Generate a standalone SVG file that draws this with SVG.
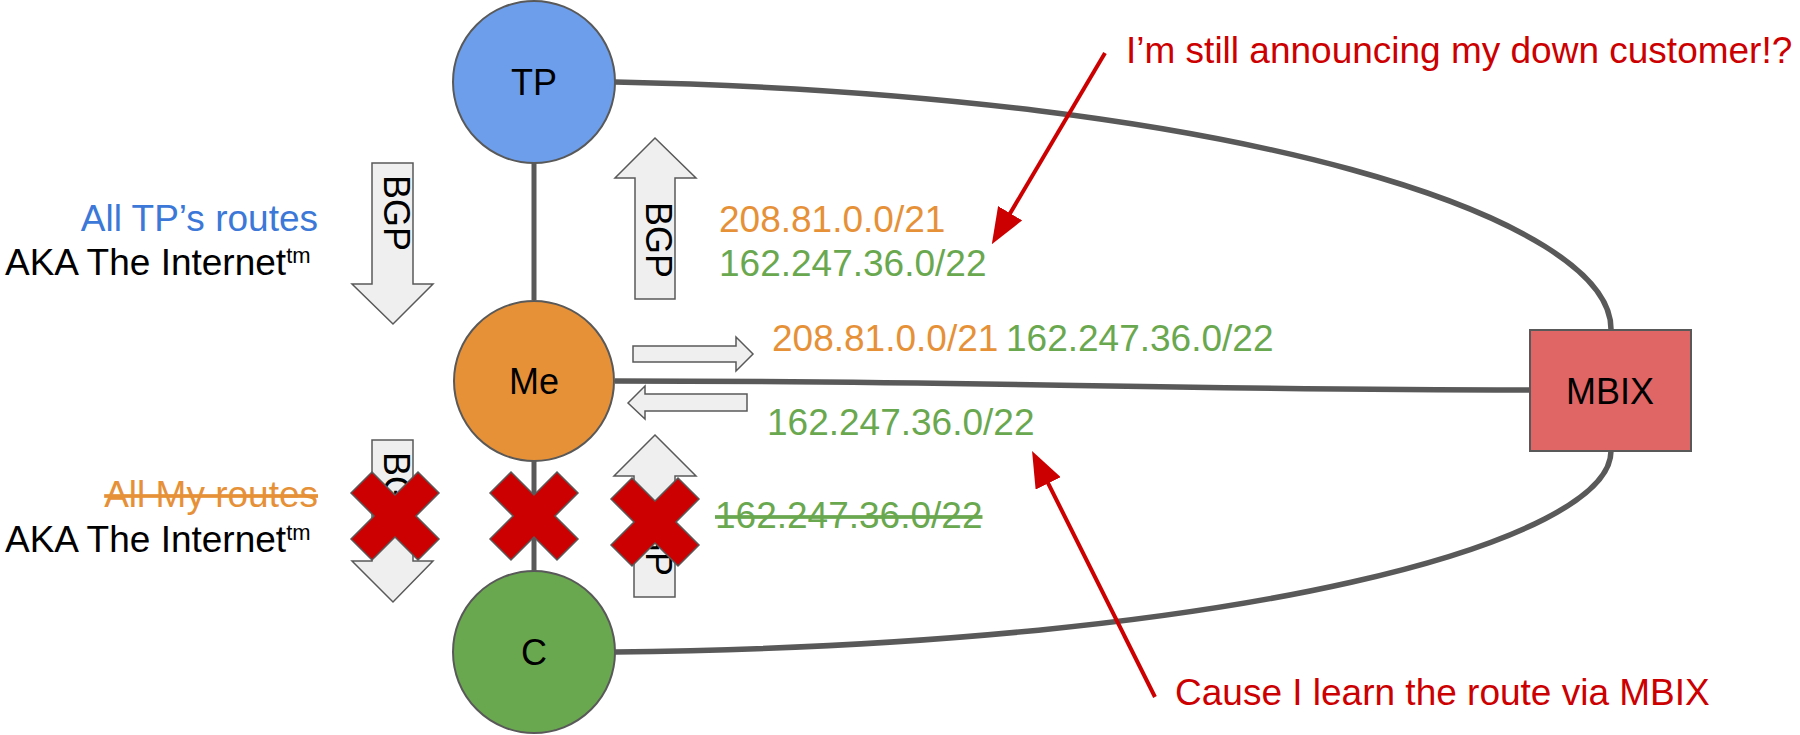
<svg xmlns="http://www.w3.org/2000/svg" width="1800" height="735" viewBox="0 0 1800 735">
<defs>
<style>
text{font-family:"Liberation Sans",Arial,sans-serif;}
.lbl{font-size:36px;fill:#000;text-anchor:middle;}
.t37{font-size:37px;}
.blue{fill:#3c78d8;}
.org{fill:#e69138;}
.grn{fill:#6aa84f;}
.red{fill:#cc0000;}
.blk{fill:#000;}
.conn{fill:none;stroke:#595959;stroke-width:5.5;}
.vconn{fill:none;stroke:#595959;stroke-width:5;}
.node{stroke:#595959;stroke-width:2;}
.barrow{fill:#efefef;stroke:#595959;stroke-width:1.5;}
.bgp{font-size:36px;fill:#000;}
.x{fill:#cc0000;stroke:#595959;stroke-width:1.5;}
.ra{fill:none;stroke:#cc0000;stroke-width:4;}
</style>
<marker id="rh" viewBox="0 0 9 7" refX="4" refY="3.5" markerWidth="9" markerHeight="7" orient="auto">
<path d="M0,0 L9,3.5 L0,7 z" fill="#cc0000"/>
</marker>
<polygon id="xs" points="-23,-44 0,-21 23,-44 44,-23 21,0 44,23 23,44 0,21 -23,44 -44,23 -21,0 -44,-23"/>
</defs>
<rect width="1800" height="735" fill="#fff"/>

<g id="connectors">
<path class="vconn" d="M534,163 L534,300"/>
<path class="vconn" d="M534,461 L534,571"/>
<path class="conn" d="M615,82 C1250,95 1611,220 1611,329"/>
<path class="conn" d="M615,381 C1000,381 1150,390 1530,390"/>
<path class="conn" d="M615,652 C1250,645 1611,540 1611,451"/>
</g>

<g id="node-tp">
<circle class="node" cx="534" cy="82" r="81" fill="#6d9eeb"/>
<text class="lbl" x="534" y="95">TP</text>
</g>
<g id="node-me">
<circle class="node" cx="534" cy="381" r="80" fill="#e69138"/>
<text class="lbl" x="534" y="394">Me</text>
</g>
<g id="node-c">
<circle class="node" cx="534" cy="652" r="81" fill="#6aa84f"/>
<text class="lbl" x="534" y="665">C</text>
</g>
<g id="node-mbix">
<rect class="node" x="1530" y="330" width="161" height="121" fill="#e06666"/>
<text class="lbl" x="1610" y="404">MBIX</text>
</g>

<g id="bgp-arrows">
<polygon class="barrow" points="372,163 413,163 413,284 433,284 393,324 352,284 372,284"/>
<text class="bgp" transform="translate(384,175) rotate(90)">BGP</text>
<polygon class="barrow" points="655,138 696,178 675,178 675,299 635,299 635,178 615,178"/>
<text class="bgp" transform="translate(646,202) rotate(90)">BGP</text>
<polygon class="barrow" points="372,440 413,440 413,561 433,561 393,602 352,561 372,561"/>
<text class="bgp" transform="translate(384,452) rotate(90)">BGP</text>
<polygon class="barrow" points="655,435 696,476 675,476 675,597 634,597 634,476 614,476"/>
<text class="bgp" transform="translate(646,500) rotate(90)">BGP</text>
<polygon class="barrow" points="633,346 736,346 736,337 753,354 736,371 736,362 633,362"/>
<polygon class="barrow" points="628,403 645,386 645,394 747,394 747,411 645,411 645,419"/>
</g>

<g id="labels">
<text class="t37 blue" x="318" y="231" text-anchor="end">All TP’s routes</text>
<text class="t37 blk" x="5" y="275">AKA The Internet<tspan font-size="22" dy="-12">tm</tspan></text>
<text class="t37 org" x="318" y="507" text-anchor="end" text-decoration="line-through">All My routes</text>
<text class="t37 blk" x="5" y="552">AKA The Internet<tspan font-size="22" dy="-12">tm</tspan></text>
<text class="t37 org" x="719" y="232">208.81.0.0/21</text>
<text class="t37 grn" x="719" y="276">162.247.36.0/22</text>
<text class="t37 org" x="772" y="351">208.81.0.0/21</text>
<text class="t37 grn" x="1006" y="351">162.247.36.0/22</text>
<text class="t37 grn" x="767" y="435">162.247.36.0/22</text>
<text class="t37 grn" x="715" y="528" text-decoration="line-through">162.247.36.0/22</text>
</g>

<g id="crosses">
<use href="#xs" class="x" x="395" y="516"/>
<use href="#xs" class="x" x="534" y="516"/>
<use href="#xs" class="x" x="655" y="522"/>
</g>

<g id="annotations">
<path class="ra" d="M1105,53 L1002,227" marker-end="url(#rh)"/>
<path class="ra" d="M1155,697 L1041,469" marker-end="url(#rh)"/>
<text class="t37 red" x="1126" y="63">I’m still announcing my down customer!?</text>
<text class="t37 red" x="1175" y="705">Cause I learn the route via MBIX</text>
</g>
</svg>
